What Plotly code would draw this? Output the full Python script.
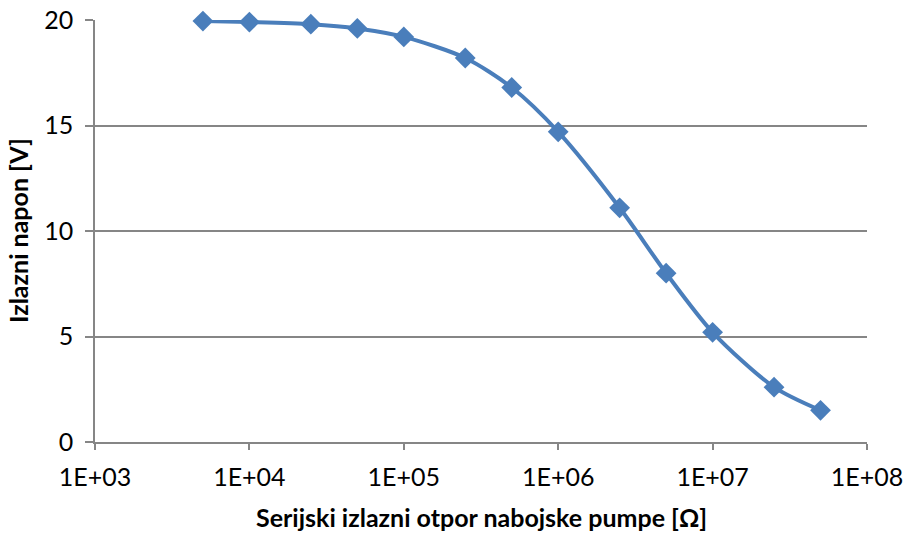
import plotly.graph_objects as go

# Serial output resistance of the charge pump [Ohm] and measured output voltage [V]
otpor = [5e3, 1e4, 2.5e4, 5e4, 1e5, 2.5e5, 5e5, 1e6, 2.5e6, 5e6, 1e7, 2.5e7, 5e7]
napon = [19.95, 19.9, 19.8, 19.6, 19.2, 18.2, 16.8, 14.7, 11.1, 8.0, 5.2, 2.6, 1.5]

x_tickvals = [1e3, 1e4, 1e5, 1e6, 1e7, 1e8]
x_ticktext = ["1E+03", "1E+04", "1E+05", "1E+06", "1E+07", "1E+08"]
y_tickvals = [0, 5, 10, 15, 20]

x_title = "Serijski izlazni otpor nabojske pumpe [Ω]"
y_title = "Izlazni napon [V]"

blue = "#4a7ebb"
gray = "#868686"
font_family = "Lato, Open Sans, sans-serif"
fs = 25

fig = go.Figure()
fig.add_trace(go.Scatter(
    x=otpor, y=napon,
    mode="lines+markers",
    line=dict(color=blue, width=4, shape="spline", smoothing=0.8),
    marker=dict(symbol="diamond", size=16, color=blue),
    cliponaxis=False,
    showlegend=False,
))

fig.update_layout(
    width=903, height=533,
    margin=dict(l=95, r=36, t=20, b=91),
    paper_bgcolor="white",
    plot_bgcolor="white",
    font=dict(family=font_family, size=fs, color="black"),
    xaxis=dict(
        type="log",
        range=[3, 8],
        tickvals=x_tickvals,
        ticktext=x_ticktext,
        tickfont=dict(size=fs),
        ticklabeloverflow="allow",
        ticklabelstandoff=6,
        automargin=False,
        showgrid=False,
        showline=True, linecolor=gray, linewidth=1.5,
        ticks="outside", ticklen=6, tickcolor=gray, tickwidth=1.5,
        zeroline=False,
    ),
    yaxis=dict(
        range=[0, 20],
        tickvals=y_tickvals,
        tickfont=dict(size=fs),
        ticklabeloverflow="allow",
        ticklabelstandoff=7,
        automargin=False,
        showgrid=True, gridcolor=gray, gridwidth=1.5,
        showline=True, linecolor=gray, linewidth=1.5,
        ticks="outside", ticklen=8, tickcolor=gray, tickwidth=1.5,
        zeroline=False,
    ),
    annotations=[
        dict(text=f"<b>{x_title}</b>", xref="paper", yref="paper",
             x=0.5, y=-(517 - 442) / 422, xanchor="center", yanchor="middle",
             showarrow=False, font=dict(size=fs)),
        dict(text=f"<b>{y_title}</b>", xref="paper", yref="paper",
             x=-(95 - 18) / 772, y=0.5, xanchor="center", yanchor="middle",
             textangle=-90, showarrow=False, font=dict(size=fs)),
    ],
)

fig.write_html("out.html")
